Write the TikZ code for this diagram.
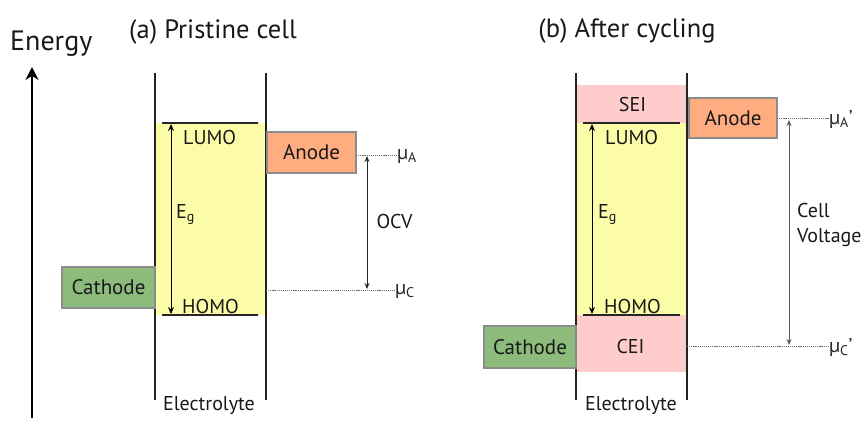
\documentclass[tikz,border=0pt]{standalone}
\usepackage{fontspec}
\setmainfont{PT Sans}
\usetikzlibrary{arrows.meta}
\definecolor{yel}{HTML}{FCFCA8}
\definecolor{anodec}{HTML}{FFAD80}
\definecolor{cathc}{HTML}{8CBB7C}
\definecolor{pinkc}{HTML}{FFCCCC}
\definecolor{boxline}{HTML}{8C8C8C}
\definecolor{wallc}{HTML}{222222}
\begin{document}
\begin{tikzpicture}[x=1pt,y=-1pt,
  lbl/.style={font=\fontsize{20}{25}\selectfont, inner sep=0pt, text=black!90},
  ttl/.style={font=\fontsize{26.5}{30}\selectfont, inner sep=0pt, text=black!90},
  rectnode/.style={inner sep=0pt, outer sep=0pt},
  electrode/.style={rectnode, draw=boxline, line width=1.5pt, font=\fontsize{21}{24}\selectfont, text=black!90},
  wall/.style={draw=wallc, line width=1.5pt},
  level/.style={draw=black!85, line width=1.6pt},
  gaparrow/.style={draw=black, line width=0.9pt, {Stealth[length=7pt,width=6pt]}-{Stealth[length=7pt,width=6pt]}},
  volt/.style={line width=0.9pt, {Stealth[length=6pt,width=5pt]}-{Stealth[length=6pt,width=5pt]}},
  dotline/.style={draw=black!55, line width=0.7pt, dash pattern=on 1.2pt off 0.9pt},
  mu/.style={font=\fontsize{20}{23}\selectfont, inner sep=0pt, text=black!85, anchor=west},
]
\useasboundingbox (0,0) rectangle (865,421);

% ---------- Energy axis ----------
\node[ttl, anchor=base west, font=\fontsize{28}{32}\selectfont] (energy) at (10,50) {Energy};
\coordinate (axbot) at (32,418);
\coordinate (axtop) at (32,67);
\draw[line width=1.4pt, -{Stealth[length=13pt,width=13pt]}] (axbot) -- (axtop);

% ================= (a) Pristine cell =================
\node[ttl, anchor=base] (titleA) at (213,38) {(a) Pristine cell};

\node[rectnode, fill=yel, minimum width=110, minimum height=192] (gapA) at (210,219) {};
\coordinate (wallAlt) at (155,73);
\coordinate (wallAlb) at (155,400);
\coordinate (wallArt) at (266,73);
\coordinate (wallArb) at (266,400);
\draw[wall] (wallAlt) -- (wallAlb);
\draw[wall] (wallArt) -- (wallArb);

\coordinate (lumoAl) at (162,123);
\coordinate (lumoAr) at (258,123);
\coordinate (homoAl) at (162,315);
\coordinate (homoAr) at (258,315);
\draw[level] (lumoAl) -- (lumoAr);
\draw[level] (homoAl) -- (homoAr);

\coordinate (egAt) at (171,124);
\coordinate (egAb) at (171,314);
\draw[gaparrow] (egAt) -- (egAb);
\node[lbl, anchor=base west] (lumoA) at (183,144) {LUMO};
\node[lbl, anchor=base west] (homoA) at (182,313) {HOMO};
\node[lbl, anchor=base west] (egA) at (176,218) {E\textsubscript{g}};

\node[electrode, fill=anodec, minimum width=89, minimum height=41] (anodeA) at (311.5,152.5) {Anode};
\node[electrode, fill=cathc, minimum width=93, minimum height=41] (cathA) at (108.5,287.5) {Cathode};

\node[mu] (muA) at (397,156) {µ\textsubscript{A}};
\node[mu] (muC) at (395,291) {µ\textsubscript{C}};
\draw[dotline] (anodeA.east |- 0,155) -- (muA.west |- 0,155);
\draw[dotline] (wallArt |- 0,290) -- (muC.west |- 0,290);

\coordinate (ocvt) at (367,156);
\coordinate (ocvb) at (367,289);
\draw[volt, draw=black!85] (ocvt) -- (ocvb);
\node[lbl] (ocv) at (394.5,221) {OCV};

\node[lbl, anchor=base] (elecA) at (209,410) {Electrolyte};

% ================= (b) After cycling =================
\node[ttl, anchor=base] (titleB) at (627,37) {(b) After cycling};

\node[rectnode, fill=pinkc, minimum width=111, minimum height=38] (sei) at (631.5,104) {};
\node[rectnode, fill=yel, minimum width=111, minimum height=192] (gapB) at (631.5,219) {};
\node[rectnode, fill=pinkc, minimum width=111, minimum height=57] (cei) at (631.5,343.5) {};
\node[lbl] (seit) at (632.5,104) {SEI};
\node[lbl] (ceit) at (630.5,346) {CEI};

\coordinate (wallBlt) at (576,73);
\coordinate (wallBlb) at (576,400);
\coordinate (wallBrt) at (687,73);
\coordinate (wallBrb) at (687,400);
\draw[wall] (wallBlt) -- (wallBlb);
\draw[wall] (wallBrt) -- (wallBrb);

\coordinate (lumoBl) at (583,123);
\coordinate (lumoBr) at (680,123);
\coordinate (homoBl) at (583,315);
\coordinate (homoBr) at (680,315);
\draw[level] (lumoBl) -- (lumoBr);
\draw[level] (homoBl) -- (homoBr);

\coordinate (egBt) at (592,124);
\coordinate (egBb) at (592,314);
\draw[gaparrow] (egBt) -- (egBb);
\node[lbl, anchor=base west] (lumoB) at (605,144) {LUMO};
\node[lbl, anchor=base west] (homoB) at (604,313) {HOMO};
\node[lbl, anchor=base west] (egB) at (598,218) {E\textsubscript{g}};

\node[electrode, fill=anodec, minimum width=88, minimum height=40] (anodeB) at (733,118) {Anode};
\node[electrode, fill=cathc, minimum width=92, minimum height=42] (cathB) at (530,347) {Cathode};

\node[mu] (muAp) at (829,119) {µ\textsubscript{A}’};
\node[mu] (muCp) at (829,347) {µ\textsubscript{C}’};
\draw[dotline] (anodeB.east |- 0,118) -- (muAp.west |- 0,118);
\draw[dotline] (wallBrt |- 0,346) -- (muCp.west |- 0,346);

\coordinate (cvt) at (789,120);
\coordinate (cvb) at (789,345);
\draw[volt, draw=black!65] (cvt) -- (cvb);
\node[lbl, anchor=base west, align=left] (cellv) at (797,242) {Cell\\Voltage};

\node[lbl, anchor=base] (elecB) at (631,410) {Electrolyte};
\end{tikzpicture}
\end{document}
